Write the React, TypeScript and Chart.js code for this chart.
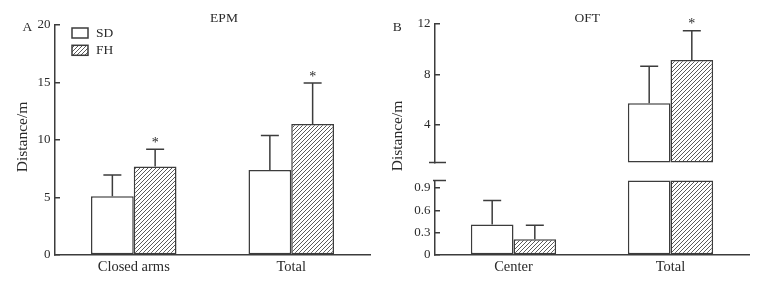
import React, { useEffect, useRef } from 'react';
import { Chart, registerables } from 'chart.js';

Chart.register(...registerables);

// ---------- data ----------
const SERIES = ['SD', 'FH'];

const EPM_CATEGORIES = ['Closed arms', 'Total'];
const EPM_SD_MEAN = [5.1, 7.4];
const EPM_SD_ERR = [1.85, 3.0];
const EPM_FH_MEAN = [7.7, 11.4];
const EPM_FH_ERR = [1.5, 3.55];
const EPM_FH_SIG = ['*', '*'];
const EPM_TICKS = [0, 5, 10, 15, 20];

const OFT_CATEGORIES = ['Center', 'Total'];
const OFT_SD_MEAN = [0.41, 5.7];
const OFT_SD_ERR = [0.32, 2.95];
const OFT_FH_MEAN = [0.21, 9.15];
const OFT_FH_ERR = [0.19, 2.32];
const OFT_FH_SIG = ['', '*'];
const OFT_UPPER_TICKS = [4, 8, 12];
const OFT_LOWER_TICKS = [0, 0.3, 0.6, 0.9];
const OFT_BREAK = 1;
const OFT_TOP = 12;

const AXIS_TITLE = 'Distance/m';

// ---------- styles ----------
const LINE = '#3c3c3c';
const TEXT = '#2a2a2a';
const FONT = "'Liberation Serif', 'Times New Roman', serif";

function makeHatch(): CanvasPattern {
  const c = document.createElement('canvas');
  c.width = 4;
  c.height = 4;
  const g = c.getContext('2d')!;
  g.fillStyle = '#ffffff';
  g.fillRect(0, 0, 4, 4);
  g.strokeStyle = '#5a5a5a';
  g.lineWidth = 1;
  g.beginPath();
  g.moveTo(0, 4); g.lineTo(4, 0);
  g.moveTo(-1, 1); g.lineTo(1, -1);
  g.moveTo(3, 5); g.lineTo(5, 3);
  g.stroke();
  return g.createPattern(c, 'repeat')!;
}

function floating(values: number[], min: number, max: number) {
  return values.map((v) => (v <= min ? null : [min, Math.min(v, max)]));
}

type TextItem = { text: string; x: number; y: number; size: number; align?: CanvasTextAlign; rotate?: boolean };
type Series = { mean: number[]; err: number[]; sig?: string[] };

interface PanelSpec {
  categories: string[];
  series: Series[];
  min: number;
  max: number;
  ticks: number[];
  showX: boolean;
  padding: { top: number; right: number; bottom: number; left: number };
  texts: TextItem[];
  legend?: boolean;
  breakTop?: [number, number];
  breakBottom?: [number, number];
}

function makeChart(canvas: HTMLCanvasElement, spec: PanelSpec, hatch: CanvasPattern) {
  const fills: (string | CanvasPattern)[] = ['#ffffff', hatch];

  const errorBars = {
    id: 'errorBars',
    afterDatasetsDraw(chart: any) {
      const { ctx } = chart;
      const y = chart.scales.y;
      spec.series.forEach((s, di) => {
        const meta = chart.getDatasetMeta(di);
        s.mean.forEach((m, i) => {
          const e = s.err[i];
          if (m < y.min || m + e > y.max + 1e-9) return;
          const el = meta.data[i];
          if (!el) return;
          const x = el.x;
          const y0 = y.getPixelForValue(m);
          const y1 = y.getPixelForValue(m + e);
          ctx.save();
          ctx.strokeStyle = LINE;
          ctx.lineWidth = 1.5;
          ctx.beginPath();
          ctx.moveTo(x, y0);
          ctx.lineTo(x, y1);
          ctx.moveTo(x - 9, y1);
          ctx.lineTo(x + 9, y1);
          ctx.stroke();
          if (s.sig && s.sig[i]) {
            ctx.fillStyle = TEXT;
            ctx.font = `14px ${FONT}`;
            ctx.textAlign = 'center';
            ctx.textBaseline = 'alphabetic';
            ctx.fillText(s.sig[i], x, y1 - 2.5);
          }
          ctx.restore();
        });
      });
    },
  };

  const decorations = {
    id: 'decorations',
    afterDraw(chart: any) {
      const { ctx, chartArea } = chart;
      ctx.save();
      ctx.fillStyle = TEXT;
      spec.texts.forEach((t) => {
        ctx.font = `${t.size}px ${FONT}`;
        if (t.rotate) {
          ctx.save();
          ctx.translate(t.x, t.y);
          ctx.rotate(-Math.PI / 2);
          ctx.textAlign = 'center';
          ctx.textBaseline = 'middle';
          ctx.fillText(t.text, 0, 0);
          ctx.restore();
        } else {
          ctx.textAlign = t.align || 'center';
          ctx.textBaseline = 'alphabetic';
          ctx.fillText(t.text, t.x, t.y);
        }
      });
      if (spec.legend) {
        chart.data.datasets.forEach((ds: any, i: number) => {
          const bx = chartArea.left + 17;
          const by = chartArea.top + 3 + i * 17.3;
          ctx.fillStyle = ds.backgroundColor;
          ctx.fillRect(bx, by, 16, 10);
          ctx.strokeStyle = LINE;
          ctx.lineWidth = 1.5;
          ctx.strokeRect(bx, by, 16, 10);
          ctx.fillStyle = TEXT;
          ctx.font = `13.5px ${FONT}`;
          ctx.textAlign = 'left';
          ctx.textBaseline = 'middle';
          ctx.fillText(ds.label, bx + 24, by + 5.5);
        });
      }
      ctx.strokeStyle = LINE;
      ctx.lineWidth = 1.5;
      if (spec.breakBottom) {
        ctx.beginPath();
        ctx.moveTo(chartArea.left + spec.breakBottom[0], chartArea.bottom);
        ctx.lineTo(chartArea.left + spec.breakBottom[1], chartArea.bottom);
        ctx.stroke();
      }
      if (spec.breakTop) {
        ctx.beginPath();
        ctx.moveTo(chartArea.left + spec.breakTop[0], chartArea.top);
        ctx.lineTo(chartArea.left + spec.breakTop[1], chartArea.top);
        ctx.stroke();
      }
      ctx.restore();
    },
  };

  return new Chart(canvas, {
    type: 'bar',
    data: {
      labels: spec.categories,
      datasets: spec.series.map((s, i) => ({
        label: SERIES[i],
        data: floating(s.mean, spec.min, spec.max) as any,
        backgroundColor: fills[i] as any,
        borderColor: LINE,
        borderWidth: 1.5,
        borderSkipped: false,
        barPercentage: 1,
        categoryPercentage: 0.543,
        clip: false as any,
      })),
    },
    options: {
      responsive: false,
      animation: false,
      events: [],
      layout: { padding: spec.padding },
      plugins: {
        legend: { display: false },
        tooltip: { enabled: false },
        title: { display: false },
      },
      scales: {
        x: {
          display: spec.showX,
          grid: { display: false, drawTicks: false },
          border: { display: true, color: LINE, width: 1.5 },
          ticks: { color: TEXT, font: { family: FONT, size: 14.5 }, padding: 3 },
          afterFit: (s: any) => { if (spec.showX) s.height = 29; },
        },
        y: {
          min: spec.min,
          max: spec.max,
          afterBuildTicks: (s: any) => { s.ticks = spec.ticks.map((v) => ({ value: v })); },
          grid: { drawOnChartArea: false, drawTicks: true, tickLength: -5, color: LINE, lineWidth: 1.5 },
          border: { display: true, color: LINE, width: 1.5 },
          ticks: {
            color: TEXT,
            font: { family: FONT, size: 13 },
            padding: 9.5,
            callback: (v: any) => String(v),
          },
          afterFit: (s: any) => { s.width = 55; },
        },
      },
    } as any,
    plugins: [errorBars, decorations],
  });
}

export default function App() {
  const aRef = useRef<HTMLCanvasElement>(null);
  const bUpRef = useRef<HTMLCanvasElement>(null);
  const bLowRef = useRef<HTMLCanvasElement>(null);

  useEffect(() => {
    document.body.style.margin = '0';
    const hatch = makeHatch();
    const charts: Chart[] = [];

    charts.push(
      makeChart(aRef.current!, {
        categories: EPM_CATEGORIES,
        series: [
          { mean: EPM_SD_MEAN, err: EPM_SD_ERR },
          { mean: EPM_FH_MEAN, err: EPM_FH_ERR, sig: EPM_FH_SIG },
        ],
        min: 0,
        max: 20,
        ticks: EPM_TICKS,
        showX: true,
        padding: { top: 25, right: 10, bottom: 0, left: 0 },
        legend: true,
        texts: [
          { text: 'A', x: 22.5, y: 30.5, size: 13.5, align: 'left' },
          { text: 'EPM', x: 224, y: 21.7, size: 13.5 },
          { text: AXIS_TITLE, x: 23, y: 137, size: 15.5, rotate: true },
        ],
      }, hatch)
    );

    charts.push(
      makeChart(bLowRef.current!, {
        categories: OFT_CATEGORIES,
        series: [
          { mean: OFT_SD_MEAN, err: OFT_SD_ERR },
          { mean: OFT_FH_MEAN, err: OFT_FH_ERR, sig: OFT_FH_SIG },
        ],
        min: 0,
        max: OFT_BREAK,
        ticks: OFT_LOWER_TICKS,
        showX: true,
        padding: { top: 180.5, right: 13, bottom: 0, left: 0 },
        texts: [],
        breakTop: [-2, 11],
      }, hatch)
    );

    charts.push(
      makeChart(bUpRef.current!, {
        categories: OFT_CATEGORIES,
        series: [
          { mean: OFT_SD_MEAN, err: OFT_SD_ERR },
          { mean: OFT_FH_MEAN, err: OFT_FH_ERR, sig: OFT_FH_SIG },
        ],
        min: OFT_BREAK,
        max: OFT_TOP,
        ticks: OFT_UPPER_TICKS,
        showX: false,
        padding: { top: 24, right: 13, bottom: 121.5, left: 0 },
        texts: [
          { text: 'B', x: 12.7, y: 30.5, size: 13.5, align: 'left' },
          { text: 'OFT', x: 207.3, y: 21.7, size: 13.5 },
          { text: AXIS_TITLE, x: 18, y: 136, size: 15.5, rotate: true },
        ],
        breakBottom: [-6, 11],
      }, hatch)
    );

    return () => charts.forEach((c) => c.destroy());
  }, []);

  return (
    <div style={{ position: 'relative', width: 762, height: 284, background: '#ffffff', overflow: 'hidden' }}>
      <canvas ref={aRef} width={380} height={284} style={{ position: 'absolute', left: 0, top: 0 }} />
      <canvas ref={bLowRef} width={382} height={284} style={{ position: 'absolute', left: 380, top: 0 }} />
      <canvas ref={bUpRef} width={382} height={284} style={{ position: 'absolute', left: 380, top: 0 }} />
    </div>
  );
}
